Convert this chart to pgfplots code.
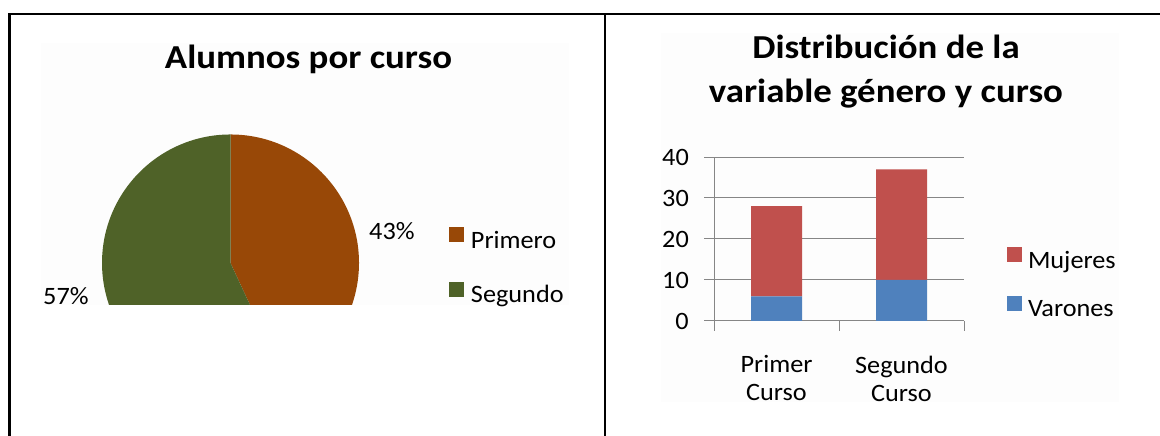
\documentclass[border=0pt]{standalone}
\usepackage{fontspec}
\setmainfont{Carlito}[FakeStretch=1.05]
\newfontfamily\titlefont{Carlito}[FakeStretch=1.1]
\usepackage{pgfplots}
\pgfplotsset{compat=1.18}
\definecolor{primero}{HTML}{984807}
\definecolor{segundo}{HTML}{4F6228}
\definecolor{mujeres}{HTML}{C0504D}
\definecolor{varones}{HTML}{4F81BD}
\definecolor{gridgray}{HTML}{868686}
\definecolor{bgfaint}{HTML}{FDFDFD}
\newcommand{\lbl}{\fontsize{25}{28}\selectfont}
\newcommand{\ttl}{\titlefont\fontsize{33.5}{44}\selectfont\bfseries}
\begin{document}
\begin{tikzpicture}
\path[use as bounding box] (0pt,0pt) rectangle (1160pt,436pt);
\fill[bgfaint] (41pt,131pt) rectangle (569pt,393pt);
\fill[bgfaint] (661pt,34pt) rectangle (1119pt,403pt);
% ---------- pie ----------
\pgfmathsetmacro{\vA}{28}
\pgfmathsetmacro{\vB}{37}
\pgfmathsetmacro{\angA}{360*\vA/(\vA+\vB)}
\begin{axis}[hide axis, x=128.5pt, y=128.5pt,
  xmin=-1.05, xmax=1.05, ymin=-0.327, ymax=1.05,
  anchor=south west, at={(95.58pt,131pt)},
  legend image code/.code={\fill[#1] (0pt,0pt) rectangle (15pt,15pt);},
  legend cell align=left,
  legend style={draw=none, fill=none, inner sep=0pt, outer sep=0pt,
    at={(axis cs:1.700,0.2763)}, anchor=north west, row sep=28.5pt,
    font=\lbl, nodes={inner sep=0pt, text height=16.5pt, text depth=5pt},
    /tikz/every odd column/.append style={column sep=7pt}},
]
\addlegendimage{fill=primero, draw=none}
\addlegendentry{Primero}
\addlegendimage{fill=segundo, draw=none}
\addlegendentry{Segundo}
\fill[primero] (axis cs:0,0) -- (axis cs:0,1) arc[start angle=90, delta angle=-\angA, radius=128.5pt] -- cycle;
\fill[segundo] (axis cs:0,0) -- (axis cs:0,1) arc[start angle=90, delta angle=360-\angA, radius=128.5pt] -- cycle;
\end{axis}
\node[anchor=base west, inner sep=0pt, font=\lbl] at (369pt,196pt) {43\%};
\node[anchor=base west, inner sep=0pt, font=\lbl] at (43pt,131pt) {57\%};
\node[anchor=base, inner sep=0pt, font=\ttl] at (308.5pt,367pt) {Alumnos por curso};
% ---------- bars ----------
\begin{axis}[ybar stacked, bar width=51pt, scale only axis,
  width=250pt, height=164pt, at={(714pt,115pt)}, anchor=south west,
  xmin=-0.5, xmax=1.5, ymin=0, ymax=40,
  ytick={0,10,20,30,40},
  xtick={-0.5,0.5,1.5}, x tick label as interval,
  xticklabels={{Primer\\Curso},{Segundo\\Curso}},
  axis x line*=bottom, axis y line*=left,
  axis line style={gridgray, line width=1pt},
  ymajorgrids, grid style={gridgray, line width=1pt},
  tick style={gridgray, line width=1pt},
  tick align=outside, major tick length=10pt,
  /pgf/number format/assume math mode=true,
  ticklabel style={font=\lbl},
  yticklabel style={inner sep=0pt, xshift=-15pt},
  xticklabel style={inner sep=0pt, align=center, yshift=-24.5pt},
  legend image code/.code={\fill[#1] (0pt,0pt) rectangle (15pt,15pt);},
  legend cell align=left, reverse legend,
  legend style={draw=none, fill=none, inner sep=0pt, outer sep=0pt,
    at={(axis cs:1.844,17.93)}, anchor=north west, row sep=22.5pt,
    font=\lbl, nodes={inner sep=0pt, text height=16.5pt, text depth=5pt},
    /tikz/every odd column/.append style={column sep=6pt}},
]
\addplot[fill=varones, draw=none] coordinates {(0,6) (1,10)};
\addlegendentry{Varones}
\addplot[fill=mujeres, draw=none] coordinates {(0,22) (1,27)};
\addlegendentry{Mujeres}
\end{axis}
\node[anchor=base, inner sep=0pt, font=\ttl] at (886pt,377pt) {Distribución de la};
\node[anchor=base, inner sep=0pt, font=\ttl] at (886pt,333pt) {variable género y curso};
% ---------- frame ----------
\draw[line width=2.2pt] (9.5pt,0pt) -- (9.5pt,422pt) -- (1160pt,422pt);
\draw[line width=2.2pt] (604.7pt,0pt) -- (604.7pt,422pt);
\end{tikzpicture}
\end{document}
